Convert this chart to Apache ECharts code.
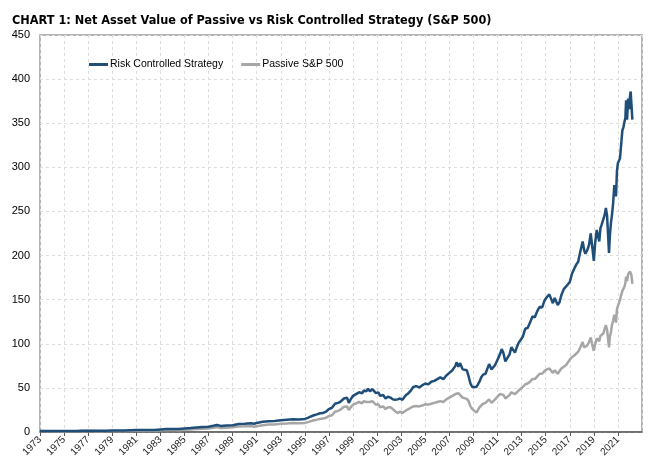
<!DOCTYPE html>
<html>
<head>
<meta charset="utf-8">
<script src="https://cdn.jsdelivr.net/npm/echarts@6/dist/echarts.min.js"></script>
<style>
html,body{margin:0;padding:0;background:#fff;}
#chart{width:661px;height:473px;}
</style>
</head>
<body>
<div id="chart"></div>
<script>
// Dates as decimal years
const dates = [
  1973.0,1973.5,1974.0,1974.5,1975.0,1975.5,1976.0,1976.5,1977.0,1977.5,1978.0,1978.5,1979.0,1979.5,
  1980.0,1980.5,1981.0,1981.5,1982.0,1982.5,1983.0,1983.5,1984.0,1984.5,1985.0,1985.5,1986.0,1986.5,
  1987.0,1987.4,1987.7,1987.85,1988.0,1988.5,1989.0,1989.5,1990.0,1990.5,1990.8,1991.0,1991.5,1992.0,
  1992.5,1993.0,1993.5,1994.0,1994.5,1995.0,1995.25,1995.5,1995.75,1996.0,1996.25,1996.5,1996.75,1997.0,
  1997.25,1997.5,1997.75,1997.92,1998.25,1998.5,1998.65,1998.8,1999.0,1999.25,1999.5,1999.75,1999.9,2000.1,
  2000.25,2000.4,2000.6,2000.75,2000.9,2001.1,2001.25,2001.5,2001.7,2001.9,2002.1,2002.3,2002.5,2002.7,
  2002.9,2003.1,2003.25,2003.4,2003.6,2003.8,2004.0,2004.25,2004.5,2004.75,2005.0,2005.25,2005.5,2005.75,
  2006.0,2006.25,2006.5,2006.75,2007.0,2007.25,2007.5,2007.6,2007.75,2007.9,2008.1,2008.25,2008.45,2008.6,
  2008.75,2008.9,2009.0,2009.25,2009.5,2009.65,2009.8,2010.0,2010.1,2010.3,2010.5,2010.65,2010.8,2011.0,
  2011.2,2011.35,2011.5,2011.65,2011.8,2012.0,2012.15,2012.3,2012.45,2012.6,2012.75,2012.9,2013.1,2013.3,
  2013.5,2013.7,2013.9,2014.1,2014.3,2014.5,2014.7,2014.9,2015.1,2015.3,2015.45,2015.6,2015.75,2015.9,
  2016.0,2016.15,2016.3,2016.5,2016.7,2016.85,2017.0,2017.2,2017.4,2017.55,2017.7,2017.85,2018.07,2018.2,
  2018.3,2018.45,2018.6,2018.74,2018.85,2019.0,2019.1,2019.24,2019.35,2019.45,2019.55,2019.65,2019.8,2019.9,
  2020.0,2020.1,2020.26,2020.33,2020.42,2020.5,2020.6,2020.7,2020.78,2020.84,2020.92,2021.0,2021.1,2021.17,
  2021.27,2021.37,2021.45,2021.55,2021.62,2021.68,2021.76,2021.85,2021.93,2022.0,2022.06,2022.12,2022.2
];

const riskControlled = [
  1.0,1.0,1.0,1.0,1.0,1.15,1.25,1.35,1.4,1.4,1.4,1.5,1.6,1.7,
  1.8,2.0,2.2,2.3,2.3,2.3,2.9,3.4,3.4,3.5,4.0,4.5,5.1,5.6,
  6.0,7.0,8.0,6.8,6.9,7.3,7.7,9.0,9.4,9.9,9.3,10.3,11.5,12.3,
  12.4,13.2,13.8,14.4,14.2,14.8,16.0,17.6,19.0,20.0,21.2,21.5,23.0,26.0,
  27.5,32,33,34,38,39,33,37,41,43,45,44,47,46,
  49,46,48.5,47,44,45,41,42,38,40,39,37,36.5,37,
  38,36.5,37,42,44,47,51,52,50.5,53,55,54,57,58,
  60,62,60,64,67,70,75,79,74,78,71,72,70,63,
  55,51,51,51,57,62,65,66,68,77,71,70,76,82,
  88,94,89,80,80,88,96,98,90,96,101,100,108,117,
  118,124,131,130,137,142,141,149,153,156,155,146,152,150,
  144,147,155,162,165,163,170,180,186,190,193,203,216,206,
  202,206,212,225,212,194,213,229,228,216,231,235,237,246,
  254,245,203,222,237,245,259,280,276,267,296,305,307,310,
  326,342,345,352,356,376,354,378,366,380,386,372,354
];

const passiveSP500 = [
  1.0,0.95,0.85,0.7,0.65,0.85,0.95,1.05,1.05,1.0,0.95,1.0,1.1,1.15,
  1.25,1.4,1.55,1.5,1.45,1.4,1.9,2.2,2.15,2.1,2.6,2.9,3.3,3.7,
  4.0,4.8,5.5,4.3,4.4,4.9,5.3,6.2,6.4,6.7,5.9,6.6,7.7,8.5,
  8.6,9.3,9.7,10.2,9.8,10.3,11.2,12.3,13.3,14.0,14.8,15.2,16.2,18.0,
  19,23,24,25,28.5,29,25,28,31,32.5,34,32.5,35,34,
  36,34,35,33,31,31.5,28,29,26,28,28,26,23.5,21.5,
  23,21.5,22,24.5,26,27.5,29,29.5,29,30,31.5,31,32,33,
  34,35,34,37,39,41,43,42,44,42,39,38,37.5,35,
  29,26,24,22,28,30,32,33,34,37,33,34,37,40,
  43,44,42,38,39,42,45,46,43,45,47,47,51,54,
  55,57,60,60,63,66,66,69,71,72,72,67,70,69,
  66,68,72,74,76,76,82,85,87,89,91,95,102,96,
  96,98,102,107,100,92,99,106,108,103,109,110,112,117,
  121,116,96,108,113,121,126,133,130,124,139,143,147,150,
  155,160,162,165,169,176,171,179,177,182,184,178,168
];

const seriesNames = ['Risk Controlled Strategy', 'Passive S&P 500'];
const titleText = 'CHART 1: Net Asset Value of Passive vs Risk Controlled Strategy (S&P 500)';
const xMin = 1973, xMax = 2023, xStep = 2;
const yMin = 0, yMax = 450, yStep = 50;

const chart = echarts.init(document.getElementById('chart'), null, {renderer: 'canvas'});
const pair = arr => dates.map((d, i) => [d, arr[i]]);

chart.setOption({
  animation: false,
  backgroundColor: '#ffffff',
  title: {
    text: titleText,
    left: 7, top: 9,
    textStyle: {fontFamily: 'DejaVu Sans Condensed, Liberation Sans, sans-serif', fontWeight: 'bold', fontSize: 12.6, color: '#000'}
  },
  legend: {
    data: seriesNames,
    left: 84, top: 54,
    icon: 'rect', itemWidth: 19, itemHeight: 3, itemGap: 18,
    textStyle: {fontFamily: 'Liberation Sans, sans-serif', fontSize: 10.5, color: '#000', padding: [0,0,0,-3]}
  },
  grid: {
    left: 40, right: 19, top: 35, bottom: 41,
    show: true, borderColor: '#9a9a9a', borderWidth: 1.5, backgroundColor: 'transparent'
  },
  xAxis: {
    type: 'value', min: xMin, max: xMax, interval: xStep,
    axisLine: {show: true, lineStyle: {color: '#5a5a5a', width: 1.5}},
    axisTick: {show: true, length: 4, lineStyle: {color: '#5a5a5a'}},
    axisLabel: {
      rotate: 45, fontSize: 10, color: '#222', margin: 6,
      fontFamily: 'Liberation Sans, sans-serif',
      showMaxLabel: false,
      formatter: v => (v >= xMax ? '' : String(v))
    },
    splitLine: {show: true, lineStyle: {color: '#dcdcdc', type: [3, 3], width: 1}}
  },
  yAxis: {
    type: 'value', min: yMin, max: yMax, interval: yStep,
    axisLine: {show: false}, axisTick: {show: false},
    axisLabel: {fontSize: 11, color: '#000', margin: 10, fontFamily: 'Liberation Sans, sans-serif'},
    splitLine: {show: true, lineStyle: {color: '#dcdcdc', type: [3, 3], width: 1}}
  },
  series: [
    {
      name: seriesNames[0], type: 'line', data: pair(riskControlled),
      showSymbol: false, symbol: 'none', z: 3,
      lineStyle: {color: '#1f4e79', width: 2.5}, itemStyle: {color: '#1f4e79'}
    },
    {
      name: seriesNames[1], type: 'line', data: pair(passiveSP500),
      showSymbol: false, symbol: 'none', z: 2,
      lineStyle: {color: '#a6a6a6', width: 2.5}, itemStyle: {color: '#a6a6a6'}
    }
  ]
});
</script>
</body>
</html>
